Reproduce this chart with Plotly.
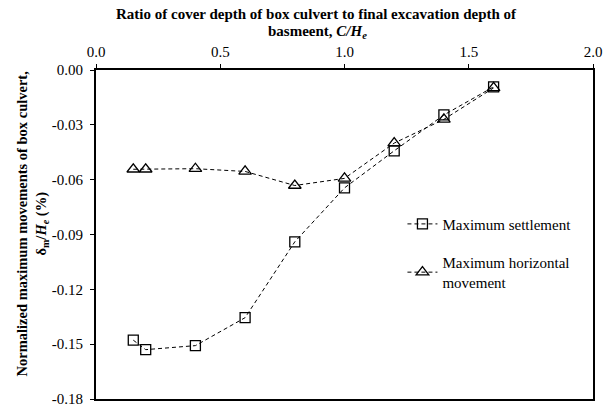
import plotly.graph_objects as go

x_ratio = [0.15, 0.2, 0.4, 0.6, 0.8, 1.0, 1.2, 1.4, 1.6]
settlement = [-0.1478, -0.1530, -0.1508, -0.1355, -0.0940, -0.0645, -0.0442, -0.0246, -0.0092]
horizontal = [-0.0543, -0.0543, -0.0540, -0.0555, -0.0632, -0.0593, -0.0400, -0.0270, -0.0098]
x_ticks = [0.0, 0.5, 1.0, 1.5, 2.0]
y_ticks = [0.00, -0.03, -0.06, -0.09, -0.12, -0.15, -0.18]

FONT = "Liberation Serif"
L, R, T, B = 96, 10, 70, 10
W, H = 612, 417
PW, PH = W - L - R, H - T - B


def px_x(v):
    return (v - L) / PW


def px_y(v):
    return (H - B - v) / PH


fig = go.Figure()
fig.add_trace(go.Scatter(
    x=x_ratio, y=settlement, mode="lines+markers", name="Maximum settlement",
    legendgroup="a",
    line=dict(color="black", width=1, dash="4px,3px"),
    marker=dict(symbol="square-open", size=10, color="black", line=dict(width=1.3)),
))
fig.add_trace(go.Scatter(
    x=x_ratio, y=horizontal, mode="lines+markers", name="Maximum horizontal<br>movement",
    legendgroup="b",
    line=dict(color="black", width=1, dash="4px,3px"),
    marker=dict(symbol="triangle-up-open", size=11, color="black", line=dict(width=1.3)),
))

fig.update_layout(
    width=W, height=H,
    margin=dict(l=L, r=R, t=T, b=B),
    paper_bgcolor="white", plot_bgcolor="white",
    font=dict(family=FONT, size=15, color="black"),
    showlegend=True,
    legend=dict(x=px_x(408), y=px_y(211), xanchor="left", yanchor="top",
                bgcolor="rgba(0,0,0,0)", font=dict(family=FONT, size=15),
                traceorder="grouped", tracegroupgap=16, itemwidth=30),
    xaxis=dict(side="top", range=[0, 2], tickvals=x_ticks, ticktext=[f"{v:.1f}" for v in x_ticks],
               showgrid=False, zeroline=False, showline=True, linecolor="black", linewidth=2,
               mirror=True, ticks="outside", ticklen=4, tickcolor="black", ticklabelstandoff=1,
               tickfont=dict(family=FONT, size=15)),
    yaxis=dict(range=[-0.18, 0.0], tickvals=y_ticks, ticktext=[f"{v:.2f}" for v in y_ticks],
               showgrid=False, zeroline=False, showline=True, linecolor="black", linewidth=2,
               mirror=True, ticks="outside", ticklen=4, tickcolor="black", ticklabelstandoff=4,
               tickfont=dict(family=FONT, size=15)),
)

fig.add_annotation(
    text="<b>Ratio of cover depth of box culvert to final excavation depth of</b>",
    xref="paper", yref="paper", x=px_x(320), y=px_y(13),
    xanchor="center", yanchor="middle", showarrow=False,
    font=dict(family=FONT, size=15),
)
fig.add_annotation(
    text="<b>basmeent, <i>C/H<sub>e</sub></i></b>",
    xref="paper", yref="paper", x=px_x(322), y=px_y(31),
    xanchor="center", yanchor="middle", showarrow=False,
    font=dict(family=FONT, size=15),
)
fig.add_annotation(
    text="<b>Normalized maximum movements of box culvert,<br>δ<sub>m</sub>/<i>H<sub>e</sub></i> (%)</b>",
    xref="paper", yref="paper", x=px_x(31), y=px_y(227),
    xanchor="center", yanchor="middle", showarrow=False, textangle=-90,
    font=dict(family=FONT, size=14.5), align="center",
)

fig.write_html("out.html")
